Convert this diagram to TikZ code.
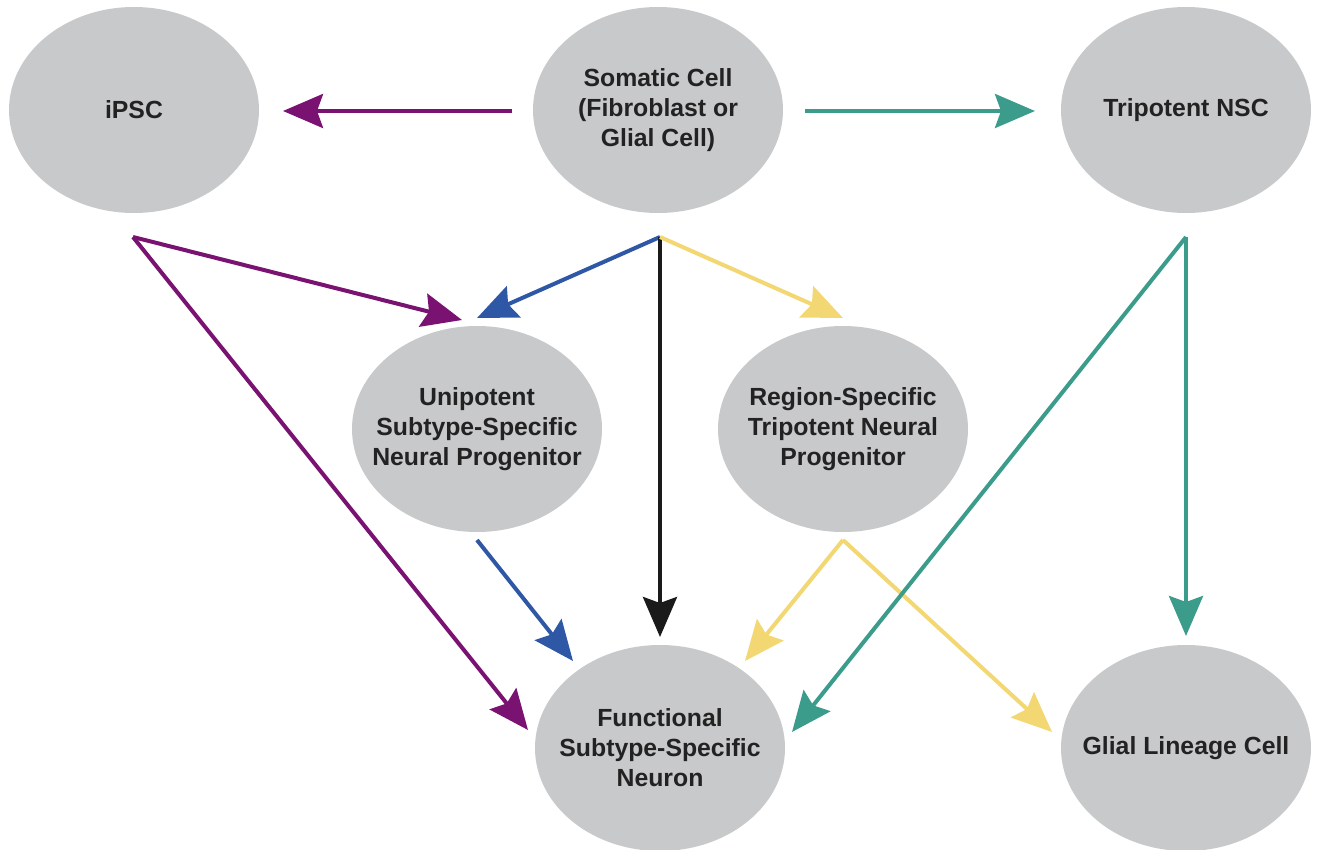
\documentclass[tikz,border=0pt]{standalone}
\usepackage{fontspec}
\setmainfont{Liberation Sans}
\usetikzlibrary{shapes.geometric,arrows.meta}
\definecolor{cgray}{HTML}{C8C9CB}
\definecolor{cpurple}{HTML}{7A1272}
\definecolor{cblue}{HTML}{2E57A6}
\definecolor{cyellow}{HTML}{F2D772}
\definecolor{cteal}{HTML}{3C9C8B}
\definecolor{cblack}{HTML}{1A1A1A}
\definecolor{ctext}{HTML}{222222}
\tikzset{
  cell/.style={ellipse, fill=cgray, draw=none, minimum width=250pt, minimum height=206pt, inner sep=-25pt,
    align=center, text=ctext, font=\fontsize{24.8}{30}\selectfont\bfseries},
  conn/.style={line width=4pt, -{Stealth[length=40pt,width=34pt,inset=6pt]}},
}
\begin{document}
\begin{tikzpicture}[x=1pt,y=-1pt]
\useasboundingbox (0,0) rectangle (1318,850);
\node[cell] (ipsc) at (134,110) {iPSC};
\node[cell] (som) at (658,110) {Somatic Cell\\(Fibroblast or\\Glial Cell)};
\node[cell] (nsc) at (1186,110) {Tripotent NSC};
\node[cell] (uni) at (477,429) {Unipotent\\Subtype-Specific\\Neural Progenitor};
\node[cell] (reg) at (843,429) {Region-Specific\\Tripotent Neural\\Progenitor};
\node[cell] (fun) at (660,748) {Functional\\Subtype-Specific\\Neuron};
\node[cell] (gli) at (1186,748) {Glial Lineage Cell};
% free ends
\coordinate (pS) at (512,111);
\coordinate (pE) at (283,111);
\coordinate (tS) at (805,111);
\coordinate (tE) at (1035,111);
\coordinate (b1) at (133,237);
\coordinate (b1u) at (462,320);
\coordinate (b1f) at (528,730);
\coordinate (b2) at (660,237);
\coordinate (b2u) at (477,318);
\coordinate (b2f) at (660,637);
\coordinate (b2r) at (843,318);
\coordinate (b5) at (477,540);
\coordinate (b5f) at (573,661);
\coordinate (b3) at (843,540);
\coordinate (b3f) at (745,661);
\coordinate (b3g) at (1052,732);
\coordinate (b4) at (1186,237);
\coordinate (b4f) at (792,732);
\coordinate (b4g) at (1186,636);
\draw[conn, cpurple] (pS) -- (pE);
\draw[conn, cteal] (tS) -- (tE);
\draw[conn, cpurple] (b1) -- (b1u);
\draw[conn, cpurple] (b1) -- (b1f);
\draw[conn, cblue] (b2) -- (b2u);
\draw[conn, cblack] (b2) -- (b2f);
\draw[conn, cyellow] (b2) -- (b2r);
\draw[conn, cblue] (b5) -- (b5f);
\draw[conn, cyellow] (b3) -- (b3f);
\draw[conn, cyellow] (b3) -- (b3g);
\draw[conn, cteal] (b4) -- (b4f);
\draw[conn, cteal] (b4) -- (b4g);
\end{tikzpicture}
\end{document}
